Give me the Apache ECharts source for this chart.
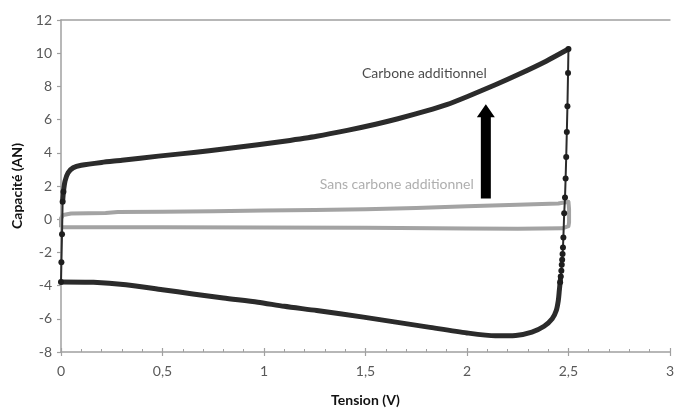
<!DOCTYPE html>
<html><head><meta charset="utf-8">
<script src="https://cdn.jsdelivr.net/npm/echarts@6/dist/echarts.min.js"></script>
<style>html,body{margin:0;padding:0;background:#fff}#c{width:677px;height:412px}</style>
</head><body><div id="c"></div>
<script>
// Tick values and labels
const xTicks = [0, 0.5, 1, 1.5, 2, 2.5, 3];
const xTickLabels = ['0', '0,5', '1', '1,5', '2', '2,5', '3'];
const yTicks = [-8, -6, -4, -2, 0, 2, 4, 6, 8, 10, 12];

// Series names
const seriesNames = ['Carbone additionnel', 'Sans carbone additionnel'];

// Carbone additionnel loop, split into its four parts [tension, capacité]
const carboneRiseLeft = [
  [0.0, -3.78], [0.002, -2.6], [0.005, -0.9], [0.008, 1.05], [0.012, 1.65]
];
const carboneUpper = [
  [0.008, 1.05], [0.012, 1.65], [0.02, 2.3], [0.035, 2.8], [0.06, 3.1], [0.1, 3.25],
  [0.2, 3.42], [0.3, 3.55], [0.48, 3.8], [0.6, 3.95], [0.73, 4.12], [0.85, 4.3],
  [0.97, 4.48], [1.1, 4.7], [1.26, 5.0], [1.41, 5.35], [1.55, 5.72], [1.66, 6.05],
  [1.8, 6.52], [1.9, 6.9], [2.0, 7.38], [2.14, 8.1], [2.25, 8.7], [2.39, 9.52], [2.5, 10.25]
];
const carboneDropRight = [
  [2.5, 10.25], [2.498, 8.8], [2.495, 6.8], [2.492, 5.25], [2.489, 3.75], [2.486, 2.45],
  [2.483, 1.3], [2.479, 0.36], [2.475, -1.1], [2.473, -1.7], [2.471, -2.1], [2.469, -2.45],
  [2.467, -2.75], [2.465, -3.1], [2.462, -3.45], [2.459, -3.8]
];
const carboneLower = [
  [2.462, -3.45], [2.459, -3.8], [2.455, -4.3], [2.45, -4.9], [2.44, -5.5], [2.42, -6.0],
  [2.38, -6.45], [2.32, -6.8], [2.24, -7.0], [2.14, -7.02], [2.0, -6.85], [1.81, -6.5],
  [1.65, -6.2], [1.49, -5.9], [1.26, -5.5], [1.1, -5.25], [0.97, -5.0], [0.8, -4.75],
  [0.65, -4.5], [0.5, -4.25], [0.32, -3.95], [0.16, -3.8], [0.0, -3.78]
];

// Sans carbone additionnel loop [tension, capacité]
const sansCarboneLoop = [
  [0.0, -0.48], [0.0, 0.05], [0.01, 0.25], [0.05, 0.34], [0.22, 0.37], [0.28, 0.44],
  [0.5, 0.45], [0.75, 0.48], [1.0, 0.52], [1.25, 0.55], [1.5, 0.6], [1.75, 0.68],
  [2.0, 0.78], [2.25, 0.87], [2.45, 0.95], [2.5, 1.05], [2.503, 0.6], [2.503, -0.2],
  [2.5, -0.42], [2.47, -0.55], [2.25, -0.58], [2.0, -0.56], [1.5, -0.52], [1.0, -0.5],
  [0.5, -0.48], [0.0, -0.48]
];

// Annotation text anchors [tension, capacité]
const labelCarbone = [1.79, 8.78];
const labelSans = [1.654, 2.09];
// Arrow [tension, base capacité, tip capacité]
const arrowData = [[2.093, 1.25, 6.93]];

const FONT = 'Lato';
const axisGray = '#a0a0a0';
const curveBlack = '#2b2b2b';
const chart = echarts.init(document.getElementById('c'), null, {renderer: 'canvas'});

const commonX = {type: 'value', min: 0, max: 3, interval: 0.5, splitLine: {show: false}};

const thinPart = (data) => ({
  name: seriesNames[0], type: 'line', xAxisIndex: 0, yAxisIndex: 0, data: data,
  showSymbol: true, showAllSymbol: true, symbol: 'circle', symbolSize: 6, smooth: false,
  lineStyle: {color: curveBlack, width: 2}, itemStyle: {color: '#1e1e1e'}, z: 3
});
const thickPart = (data) => ({
  name: seriesNames[0], type: 'line', xAxisIndex: 0, yAxisIndex: 0, data: data,
  showSymbol: false, smooth: 0.25,
  lineStyle: {color: curveBlack, width: 5, cap: 'round', join: 'round'}, z: 3
});

chart.setOption({
  animation: false,
  backgroundColor: '#fff',
  textStyle: {fontFamily: FONT},
  grid: {left: 61, right: 1, top: 20, bottom: 57, containLabel: false},
  xAxis: [
    Object.assign({}, commonX, {
      position: 'bottom',
      axisLine: {show: true, onZero: false, lineStyle: {color: axisGray, width: 1.5}},
      axisTick: {show: true, inside: true, length: 4, lineStyle: {color: axisGray, width: 1.2}},
      minorTick: {show: true, splitNumber: 5, length: 3, lineStyle: {color: axisGray, width: 1}},
      axisLabel: {color: '#595959', fontSize: 14, fontFamily: FONT, margin: 12,
        formatter: v => { const i = xTicks.indexOf(v); return i >= 0 ? xTickLabels[i] : ''; }},
      name: 'Tension (V)', nameLocation: 'middle', nameGap: 41,
      nameTextStyle: {color: '#111', fontSize: 14, fontWeight: 'bold', fontFamily: FONT}
    }),
    Object.assign({}, commonX, {
      position: 'bottom',
      axisLine: {show: false, onZero: false},
      axisTick: {show: true, inside: false, length: 4, lineStyle: {color: axisGray, width: 1.2}},
      axisLabel: {show: false}
    }),
    Object.assign({}, commonX, {
      position: 'top',
      axisLine: {show: true, onZero: false, lineStyle: {color: axisGray, width: 1.5}},
      axisTick: {show: false},
      axisLabel: {show: false}
    })
  ],
  yAxis: [{
    type: 'value', min: -8, max: 12, interval: 2,
    axisLine: {show: true, onZero: false, lineStyle: {color: axisGray, width: 1.5}},
    axisTick: {show: true, inside: false, length: 4, lineStyle: {color: axisGray, width: 1.2}},
    splitLine: {show: false},
    axisLabel: {color: '#595959', fontSize: 14, fontFamily: FONT, margin: 9,
      formatter: v => yTicks.indexOf(v) >= 0 ? String(v) : ''},
    name: 'Capacité (AN)', nameLocation: 'middle', nameGap: 36,
    nameTextStyle: {color: '#111', fontSize: 14, fontWeight: 'bold', fontFamily: FONT}
  }],
  series: [
    {
      name: seriesNames[1], type: 'line', xAxisIndex: 0, yAxisIndex: 0,
      data: sansCarboneLoop, showSymbol: false, smooth: false,
      lineStyle: {color: '#a3a3a3', width: 4, join: 'round'}, itemStyle: {color: '#a3a3a3'}, z: 2
    },
    thickPart(carboneUpper),
    thickPart(carboneLower),
    thinPart(carboneRiseLeft),
    thinPart(carboneDropRight),
    {
      type: 'custom', xAxisIndex: 0, yAxisIndex: 0, data: arrowData, z: 4,
      renderItem: (params, api) => {
        const b = api.coord([api.value(0), api.value(1)]);
        const t = api.coord([api.value(0), api.value(2)]);
        const sw = 5, hw = 9, hh = 13;
        return {
          type: 'polygon',
          shape: {points: [
            [b[0] - sw, b[1]], [b[0] - sw, t[1] + hh], [b[0] - hw, t[1] + hh], [b[0], t[1]],
            [b[0] + hw, t[1] + hh], [b[0] + sw, t[1] + hh], [b[0] + sw, b[1]]
          ]},
          style: {fill: '#000'}
        };
      }
    },
    {
      type: 'scatter', xAxisIndex: 0, yAxisIndex: 0, symbolSize: 0, z: 5, silent: true,
      label: {show: true, position: 'inside', fontFamily: FONT, fontSize: 14},
      data: [
        {value: labelCarbone, label: {formatter: seriesNames[0], color: '#1a1a1a'}},
        {value: labelSans, label: {formatter: seriesNames[1], color: '#9a9a9a'}}
      ]
    }
  ]
});
</script>
</body></html>
